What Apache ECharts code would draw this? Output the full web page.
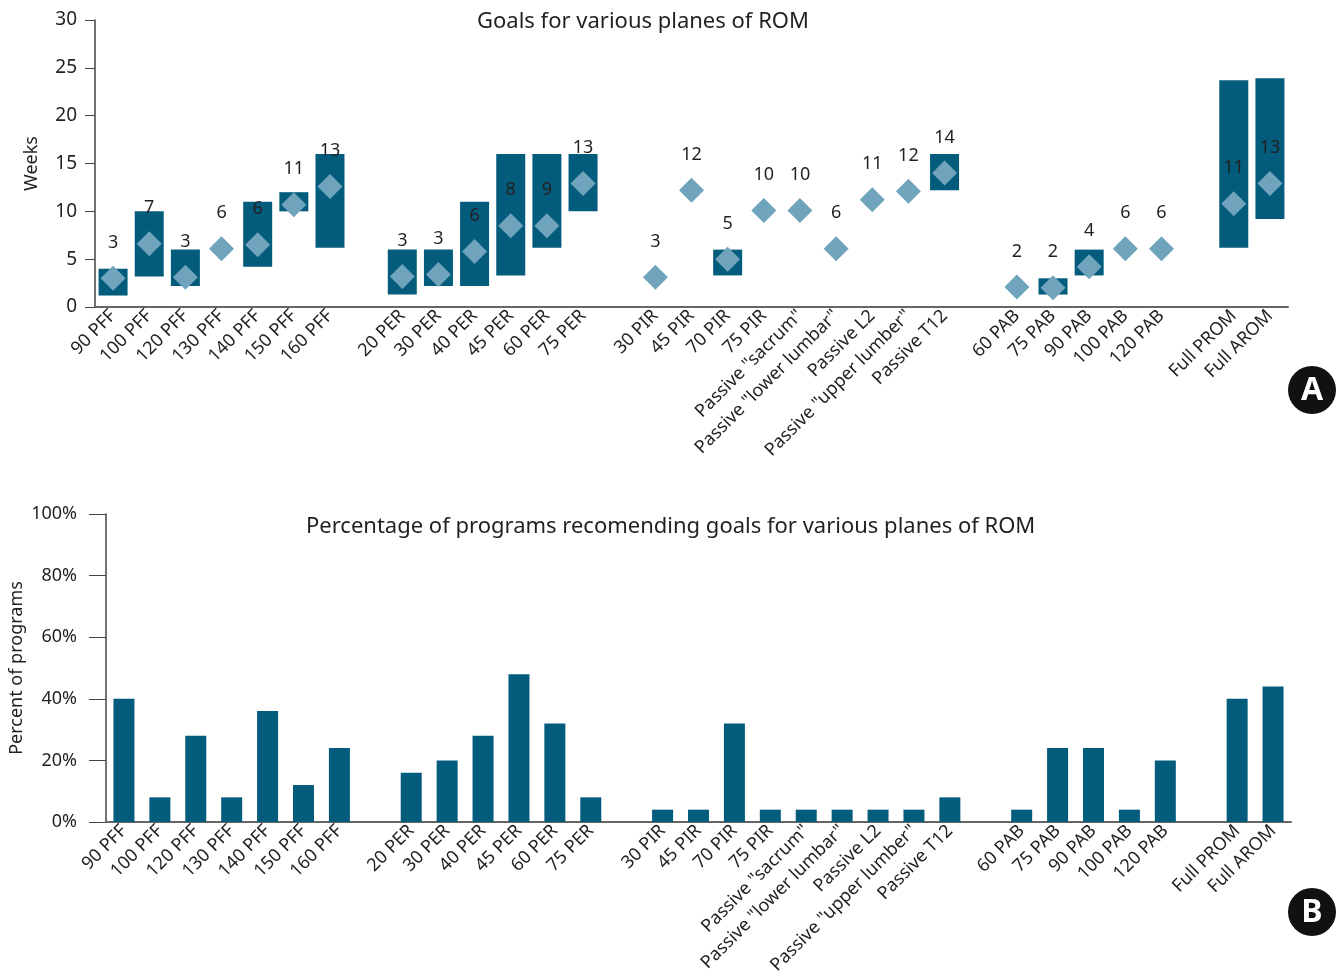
<!DOCTYPE html>
<html>
<head>
<meta charset="utf-8">
<script src="https://cdn.jsdelivr.net/npm/echarts@6/dist/echarts.min.js"></script>
<style>
  html, body { margin: 0; padding: 0; background: #fff; }
  #main { width: 1340px; height: 975px; }
</style>
</head>
<body>
<div id="main"></div>
<script>
// categories (empty strings are the gaps between groups)
const categories = ['90 PFF', '100 PFF', '120 PFF', '130 PFF', '140 PFF', '150 PFF', '160 PFF', '',
  '20 PER', '30 PER', '40 PER', '45 PER', '60 PER', '75 PER', '',
  '30 PIR', '45 PIR', '70 PIR', '75 PIR', 'Passive "sacrum"', 'Passive "lower lumbar"', 'Passive L2', 'Passive "upper lumber"', 'Passive T12', '',
  '60 PAB', '75 PAB', '90 PAB', '100 PAB', '120 PAB', '',
  'Full PROM', 'Full AROM'];

// A: range of weeks (low / high) and the diamond marker
const rangeLow = [1.2, 3.2, 2.2, '-', 4.2, 10, 6.2, '-',
  1.3, 2.2, 2.2, 3.3, 6.2, 10, '-',
  '-', '-', 3.3, '-', '-', '-', '-', '-', 12.2, '-',
  '-', 1.3, 3.3, '-', '-', '-',
  6.2, 9.2];
const rangeHigh = [4, 10, 6, '-', 11, 12, 16, '-',
  6, 6, 11, 16, 16, 16, '-',
  '-', '-', 6, '-', '-', '-', '-', '-', 16, '-',
  '-', 3, 6, '-', '-', '-',
  23.7, 23.9];
const weeks = [3, 6.6, 3.1, 6.1, 6.5, 10.7, 12.6, '-',
  3.2, 3.4, 5.8, 8.5, 8.5, 12.9, '-',
  3.1, 12.2, 5, 10.1, 10.1, 6.1, 11.2, 12.1, 14, '-',
  2.1, 2, 4.2, 6.1, 6.1, '-',
  10.8, 12.9];
const weekLabels = [3, 7, 3, 6, 6, 11, 13, '',
  3, 3, 6, 8, 9, 13, '',
  3, 12, 5, 10, 10, 6, 11, 12, 14, '',
  2, 2, 4, 6, 6, '',
  11, 13];

// B: percent of programs
const percent = [40, 8, 28, 8, 36, 12, 24, '-',
  16, 20, 28, 48, 32, 8, '-',
  4, 4, 32, 4, 4, 4, 4, 4, 8, '-',
  4, 24, 24, 4, 20, '-',
  40, 44];

const rangeSize = rangeHigh.map((h, i) => (h === '-' ? '-' : +(h - rangeLow[i]).toFixed(2)));

const FONT = "'Noto Sans', sans-serif";
const DARK = '#035c7c';
const LIGHT = '#70a4bd';
const TXT = '#231f20';

const myChart = echarts.init(document.getElementById('main'));

const axisLabel = {
  interval: 0,
  rotate: 45,
  fontSize: 18,
  fontFamily: FONT,
  color: TXT,
  margin: 6
};

const option = {
  backgroundColor: '#fff',
  animation: false,
  textStyle: { fontFamily: FONT },
  title: [{
    text: 'Goals for various planes of ROM',
    left: 472, top: 6,
    textStyle: { fontSize: 22, fontWeight: 'normal', color: TXT, fontFamily: FONT }
  }, {
    text: 'Percentage of programs recomending goals for various planes of ROM',
    left: 301, top: 511,
    textStyle: { fontSize: 22, fontWeight: 'normal', color: TXT, fontFamily: FONT }
  }],
  grid: [
    { left: 95, right: 52, top: 20, height: 287, containLabel: false, outerBoundsMode: 'none' },
    { left: 106, right: 49, top: 514, height: 308, containLabel: false, outerBoundsMode: 'none' }
  ],
  xAxis: [{
    type: 'category', gridIndex: 0, data: categories,
    axisLine: { lineStyle: { color: '#666', width: 2 } },
    axisTick: { show: false },
    axisLabel: axisLabel
  }, {
    type: 'category', gridIndex: 1, data: categories,
    axisLine: { lineStyle: { color: '#666', width: 2 } },
    axisTick: { show: false },
    axisLabel: axisLabel
  }],
  yAxis: [{
    type: 'value', gridIndex: 0, min: 0, max: 30, interval: 5,
    name: 'Weeks', nameLocation: 'middle', nameGap: 54,
    nameTextStyle: { fontSize: 18, color: TXT, fontFamily: FONT },
    axisLine: { show: true, lineStyle: { color: '#444', width: 1.5 } },
    axisTick: { show: true, length: 10, lineStyle: { color: '#444' } },
    axisLabel: { fontSize: 19, color: TXT, fontFamily: FONT, margin: 18 },
    splitLine: { show: false }
  }, {
    type: 'value', gridIndex: 1, min: 0, max: 100, interval: 20,
    name: 'Percent of programs', nameLocation: 'middle', nameGap: 80, nameMoveOverlap: false,
    nameTextStyle: { fontSize: 18, color: TXT, fontFamily: FONT },
    axisLine: { show: true, lineStyle: { color: '#444', width: 1.5 } },
    axisTick: { show: true, length: 17, lineStyle: { color: '#444' } },
    axisLabel: { fontSize: 18, color: TXT, fontFamily: FONT, margin: 29, formatter: '{value}%' },
    splitLine: { show: false }
  }],
  series: [{
    name: 'low', type: 'bar', stack: 'range', xAxisIndex: 0, yAxisIndex: 0,
    barWidth: 29, data: rangeLow,
    itemStyle: { color: 'transparent' }, silent: true
  }, {
    name: 'range', type: 'bar', stack: 'range', xAxisIndex: 0, yAxisIndex: 0,
    barWidth: 29, data: rangeSize,
    itemStyle: { color: DARK }
  }, {
    name: 'weeks', type: 'scatter', xAxisIndex: 0, yAxisIndex: 0,
    symbol: 'diamond', symbolSize: 25, data: weeks,
    itemStyle: { color: LIGHT, opacity: 1 },
    label: {
      show: true, position: 'top', distance: 14,
      fontSize: 18, color: TXT, fontFamily: FONT,
      formatter: p => weekLabels[p.dataIndex]
    },
    z: 5
  }, {
    name: 'percent', type: 'bar', xAxisIndex: 1, yAxisIndex: 1,
    barWidth: 21, data: percent,
    itemStyle: { color: DARK }
  }],
  graphic: [{
    type: 'group', left: 1288, top: 366,
    children: [
      { type: 'circle', shape: { cx: 24, cy: 24, r: 24 }, style: { fill: '#111' } },
      { type: 'text', x: 24, y: 25, style: { text: 'A', fill: '#fff', stroke: '#000', lineWidth: 1, font: "bold 32px 'Noto Sans', sans-serif", align: 'center', verticalAlign: 'middle' } }
    ]
  }, {
    type: 'group', left: 1288, top: 888,
    children: [
      { type: 'circle', shape: { cx: 24, cy: 24, r: 24 }, style: { fill: '#111' } },
      { type: 'text', x: 24, y: 25, style: { text: 'B', fill: '#fff', stroke: '#000', lineWidth: 1, font: "bold 32px 'Noto Sans', sans-serif", align: 'center', verticalAlign: 'middle' } }
    ]
  }]
};

myChart.setOption(option);
</script>
</body>
</html>
